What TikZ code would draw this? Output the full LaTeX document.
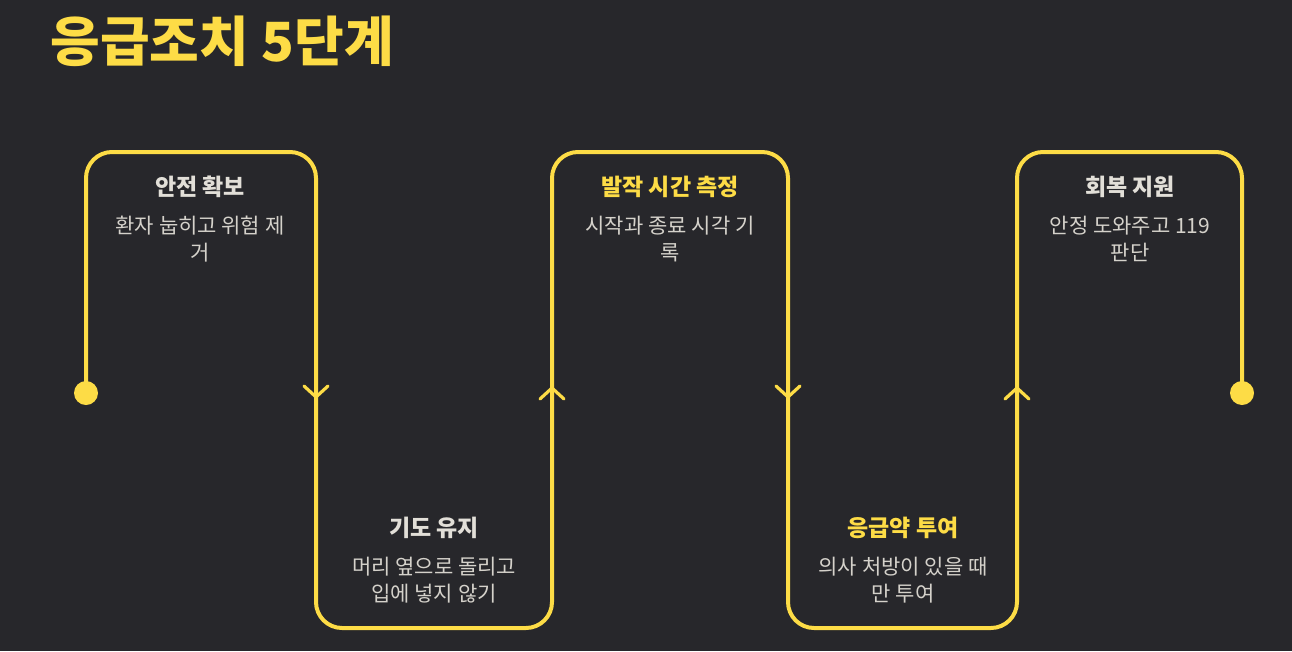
\documentclass[tikz,border=0pt]{standalone}
\usepackage{fontspec}
\setmainfont{Noto Sans CJK KR}
\definecolor{fabg}{HTML}{27272B}
\definecolor{fayellow}{HTML}{FDDC46}
\definecolor{fahead}{HTML}{E2DFD8}
\definecolor{fanote}{HTML}{D5D2CB}
\usetikzlibrary{positioning}

\begin{document}
\begin{tikzpicture}[x=1pt,y=-1pt,
  flow/.style={draw=fayellow,line width=4pt,rounded corners=26pt},
  chev/.style={draw=fayellow,line width=3.2pt,line cap=round},
  endpt/.style={circle,fill=fayellow,minimum size=24pt,inner sep=0pt},
  head/.style={text=fahead,font=\fontsize{23}{26}\selectfont\bfseries},
  hothead/.style={head,text=fayellow},
  note/.style={text=fanote,align=center,font=\fontsize{21}{27}\selectfont},
  downmark/.pic={\draw[chev] (-12,-11) -- (0,0) -- (12,-11);},
  upmark/.pic={\draw[chev] (-12,11) -- (0,0) -- (12,11);}]
  \fill[fabg] (0,0) rectangle (1292,651);
  \useasboundingbox (0,0) rectangle (1292,651);
  \node[anchor=west,text=fayellow,font=\fontsize{54}{58}\selectfont\bfseries]
    (title) at (47,41) {응급조치 5단계};
  % the winding line
  \node[endpt] (start) at (86,393) {};
  \node[endpt] (stop) at (1242,393) {};
  \coordinate (k1) at (316,152);
  \coordinate (k2) at (552,628);
  \coordinate (k3) at (788,152);
  \coordinate (k4) at (1017,628);
  \coordinate (k5) at (1242,152);
  \draw[flow] (start.center) |- (k1) |- (k2) |- (k3) |- (k4) |- (k5) -- (stop.center);
  \pic at (316,397) {downmark};
  \pic at (552,388) {upmark};
  \pic at (788,397) {downmark};
  \pic at (1017,388) {upmark};
  % steps
  \node[head] (h1) at (200,187) {안전 확보};
  \node[note] (n1) at (200,239) {환자 눕히고 위험 제\\거};
  \node[head] (h2) at (434,528) {기도 유지};
  \node[note] (n2) at (434,580) {머리 옆으로 돌리고\\입에 넣지 않기};
  \node[hothead] (h3) at (670,187) {발작 시간 측정};
  \node[note] (n3) at (670,239) {시작과 종료 시각 기\\록};
  \node[hothead] (h4) at (903,528) {응급약 투여};
  \node[note] (n4) at (903,580) {의사 처방이 있을 때\\만 투여};
  \node[head] (h5) at (1130,187) {회복 지원};
  \node[note] (n5) at (1130,239) {안정 도와주고 119\\판단};
\end{tikzpicture}
\end{document}
